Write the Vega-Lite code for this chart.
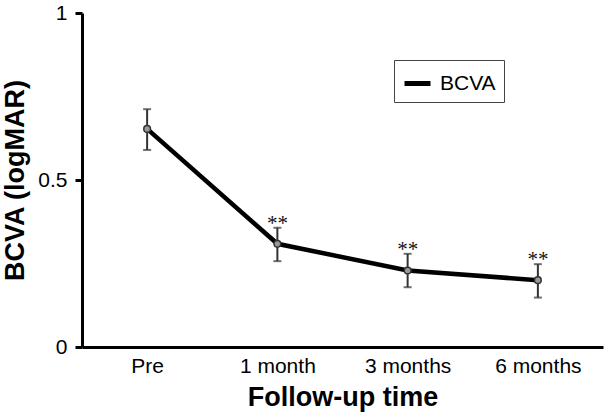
{
  "$schema": "https://vega.github.io/schema/vega-lite/v6.json",
  "autosize": {"type": "none"},
  "width": 521,
  "height": 334,
  "padding": {"left": 82, "top": 13, "right": 5, "bottom": 69},
  "background": "white",
  "config": {
    "view": {"stroke": null},
    "font": "Liberation Sans"
  },
  "data": {
    "values": [
      {"time": "Pre", "value": 0.653, "lo": 0.59, "hi": 0.712, "sig": "", "series": "BCVA"},
      {"time": "1 month", "value": 0.309, "lo": 0.257, "hi": 0.357, "sig": "**", "series": "BCVA"},
      {"time": "3 months", "value": 0.229, "lo": 0.179, "hi": 0.279, "sig": "**", "series": "BCVA"},
      {"time": "6 months", "value": 0.2, "lo": 0.148, "hi": 0.248, "sig": "**", "series": "BCVA"}
    ]
  },
  "encoding": {
    "x": {
      "field": "time", "type": "nominal", "sort": null,
      "scale": {"type": "point", "padding": 0.5},
      "axis": {
        "title": "Follow-up time", "titleFontSize": 27, "titleFontWeight": "bold", "titleColor": "black",
        "titlePadding": 8, "labelAngle": 0, "labelFontSize": 21, "labelColor": "black", "labelPadding": 8,
        "ticks": false, "domainColor": "black", "domainWidth": 3, "grid": false
      }
    }
  },
  "layer": [
    {
      "mark": {"type": "rule", "color": "#333", "strokeWidth": 2},
      "encoding": {
        "y": {"field": "lo", "type": "quantitative"},
        "y2": {"field": "hi"}
      }
    },
    {
      "mark": {"type": "tick", "color": "#333", "thickness": 2, "size": 8},
      "encoding": {"y": {"field": "lo", "type": "quantitative"}}
    },
    {
      "mark": {"type": "tick", "color": "#333", "thickness": 2, "size": 8},
      "encoding": {"y": {"field": "hi", "type": "quantitative"}}
    },
    {
      "mark": {"type": "line", "strokeWidth": 4.5},
      "encoding": {
        "y": {
          "field": "value", "type": "quantitative",
          "scale": {"domain": [0, 1], "nice": false},
          "axis": {
            "title": "BCVA (logMAR)", "titleFontSize": 27, "titleFontWeight": "bold", "titleColor": "black",
            "titlePadding": 8, "values": [0, 0.5, 1], "format": "~g", "labelFontSize": 21, "labelColor": "black",
            "labelPadding": 8, "tickSize": 7, "tickWidth": 3, "tickColor": "black",
            "domainColor": "black", "domainWidth": 3, "grid": false
          }
        },
        "color": {
          "field": "series", "type": "nominal",
          "scale": {"range": ["black"]},
          "legend": {
            "title": null, "orient": "none", "legendX": 312, "legendY": 47,
            "symbolType": "stroke", "symbolStrokeWidth": 5, "symbolSize": 676,
            "labelFontSize": 21, "labelColor": "black", "strokeColor": "#444",
            "fillColor": "white", "padding": 8, "labelOffset": 7
          }
        }
      }
    },
    {
      "mark": {"type": "point", "filled": true, "fill": "#999", "stroke": "#333", "strokeWidth": 1.5, "size": 45, "opacity": 1},
      "encoding": {"y": {"field": "value", "type": "quantitative"}}
    },
    {
      "mark": {"type": "text", "font": "Liberation Serif", "fontSize": 21, "color": "#111", "dy": 2, "baseline": "alphabetic"},
      "encoding": {
        "y": {"field": "hi", "type": "quantitative"},
        "text": {"field": "sig"}
      }
    }
  ]
}
